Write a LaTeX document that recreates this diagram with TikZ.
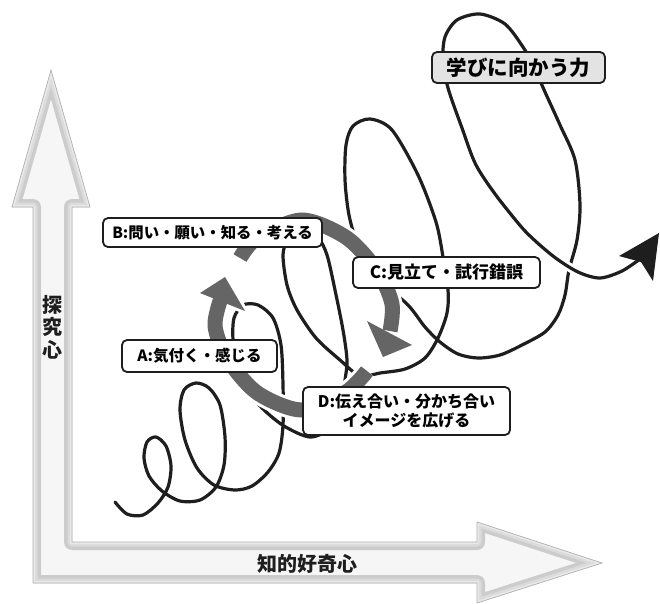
\documentclass[tikz,border=0pt]{standalone}
\usepackage{fontspec}
\setmainfont{Noto Sans CJK JP}
\usetikzlibrary{arrows.meta}
\definecolor{arrowgrey}{HTML}{656565}
\definecolor{inkblack}{HTML}{1E1E1E}
\tikzset{
  labelbox/.style={draw=inkblack, line width=1.8pt, rounded corners=5pt, fill=white, inner sep=0pt, align=center},
  coil/.style={draw=inkblack, line width=3.2pt, line cap=round, line join=round},
  cycleshaft/.style={draw=arrowgrey, line width=15pt},
  cyclehalo/.style={draw=white, line width=21pt},
  headhalo/.style={draw=white, line width=6pt, line join=round},
  cyclehead/.style={fill=arrowgrey},
  axislabel/.style={font=\bfseries\fontsize{20}{22.5}\selectfont, text=inkblack, align=center, inner sep=0pt},
}
\newcommand{\axisoutline}{(51,70) -- (90,207) -- (72,207) -- (72,542) -- (477,542) -- (477,522) -- (602,563) -- (477,603) -- (477,583) -- (33,583) -- (33,207) -- (12,207) -- cycle}
\newcommand{\arcone}{(367,371) (346,392) (302,410) (257.5,393) (227.5,359) (215,326) (221,298)}
\newcommand{\arctwo}{(240,258) (257,238) (302,220) (347,238) (378,272) (392,304) (390,331)}
\newcommand{\headA}{(225,277) -- (200,293) -- (245,311) -- cycle}
\newcommand{\headC}{(383,357) -- (367,321) -- (412,345) -- cycle}
\begin{document}
\begin{tikzpicture}[x=1pt,y=-1pt]
\useasboundingbox (0,0) rectangle (660,603);
\fill[white] (0,0) rectangle (660,603);

% axes (L-shaped block arrow)
\begin{scope}
  \clip \axisoutline;
  \fill[gray!7] \axisoutline;
  \draw[gray!40, line width=16pt, line join=round] \axisoutline;
  \draw[gray!28, line width=9pt, line join=round] \axisoutline;
  \draw[gray!17, line width=4pt, line join=round] \axisoutline;
\end{scope}
\draw[gray!60, line width=0.7pt] \axisoutline;
\node[axislabel] (inquiry) at (52,327) {探\\究\\心};
\node[axislabel] (curiosity) at (307,564) {知的好奇心};

% spiral
\draw[coil] plot[smooth, tension=0.5] coordinates {(115,502) (127,514) (143,515) (158,503) (168,487) (171,466) (166,446) (156,437) (147,442) (144,458) (149,476) (162,491) (180,501) (200,500) (216,487) (224,465) (225,437) (220,405) (209,388) (196,383) (184,390) (180,410) (185,440) (197,468) (214,485) (235,490) (252,486) (268,472) (279,453) (283,425) (283,385) (281,345) (273,318) (258,305) (243,305) (234,318) (233,340) (237,365) (246,388) (262,408) (284,426) (310,437) (330,428) (341,405) (345,380) (347,360) (343,330) (335,290) (327,255) (318,238) (302,233) (288,240) (283,255) (287,285) (297,310) (316,338) (340,360) (360,376) (380,373) (405,369) (425,358) (438,338) (447,313) (448,290) (443,257) (436,222) (418,175) (392,130) (370,119) (353,126) (346,145) (345,180) (349,215) (358,245) (378,278) (408,305) (425,327) (440,342) (458,354) (478,358) (500,355) (522,345) (545,332) (558,315) (565,295) (569,270) (577,240) (580,205) (575,160) (560,125) (545,92) (533,65) (523,47) (505,24) (480,14) (457,20) (445,37) (443,60) (448,88) (462,128) (476,165) (498,198) (525,231)};
\draw[white, line width=9pt] plot[smooth, tension=0.5] coordinates {(498,198) (525,231) (553,256) (578,272) (600,278) (622,271) (640,259)};
\draw[coil] plot[smooth, tension=0.5] coordinates {(498,198) (525,231) (553,256) (578,272) (600,278) (622,271) (640,259)};
\fill[inkblack] (659,233) -- (653,281) -- (641,262) -- (619,256) -- cycle;

% cycle arrows
\draw[cyclehalo] plot[smooth] coordinates {\arcone};
\draw[headhalo] \headA;
\draw[cycleshaft] plot[smooth] coordinates {\arcone};
\fill[cyclehead] \headA;
\draw[cyclehalo] plot[smooth] coordinates {\arctwo};
\draw[headhalo] \headC;
\draw[cycleshaft] plot[smooth] coordinates {\arctwo};
\fill[cyclehead] \headC;

% label boxes
\node[labelbox, minimum width=219pt, minimum height=29pt, font=\bfseries\fontsize{15.4}{18}\selectfont] (boxB) at (212.5,232.5) {B:問い・願い・知る・考える};
\node[labelbox, minimum width=187pt, minimum height=31pt, font=\bfseries\fontsize{17}{20}\selectfont] (boxC) at (446.5,272.5) {C:見立て・試行錯誤};
\node[labelbox, minimum width=155pt, minimum height=32pt, font=\bfseries\fontsize{15.5}{18}\selectfont] (boxA) at (199.5,356) {A:気付く・感じる};
\node[labelbox, minimum width=207pt, minimum height=48pt, font=\bfseries\fontsize{16}{19.5}\selectfont] (boxD) at (406.5,411) {D:伝え合い・分かち合い\\イメージを広げる};
\node[labelbox, fill=gray!22, minimum width=173pt, minimum height=31pt, font=\bfseries\fontsize{20.5}{24}\selectfont] (goal) at (518.5,67.5) {学びに向かう力};
\end{tikzpicture}
\end{document}
